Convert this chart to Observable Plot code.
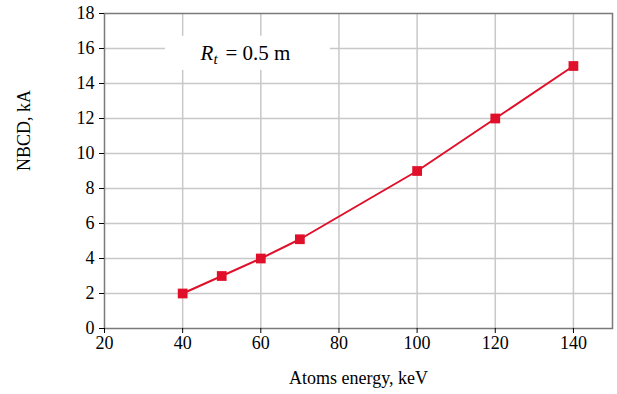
<!DOCTYPE html>
<html>
<head>
<meta charset="utf-8">
<script src="https://cdn.jsdelivr.net/npm/d3@7"></script>
<script src="https://cdn.jsdelivr.net/npm/@observablehq/plot@0.6"></script>
<style>
  html, body { margin: 0; padding: 0; background: #fff; }
  #chart { width: 617px; height: 394px; }
</style>
</head>
<body>
<div id="chart"></div>
<script>
const energy = [40, 50, 60, 70, 100, 120, 140];
const nbcd = [2, 3, 4, 5.1, 9, 12, 15];
const xTicks = [20, 40, 60, 80, 100, 120, 140];
const yTicks = [0, 2, 4, 6, 8, 10, 12, 14, 16, 18];
const xLabel = "Atoms energy, keV";
const yLabel = "NBCD, kA";
const noteMain = ["R"];
const noteSub = ["t"];
const noteRest = ["= 0.5 m"];
const noteX = [44.55];
const noteY = [15.7];
const noteBoxX = [35.6, 77.8];
const noteBoxY = [14.75, 16.7];

const data = energy.map((e, i) => ({energy: e, nbcd: nbcd[i]}));
const box = [{x1: noteBoxX[0], x2: noteBoxX[1], y1: noteBoxY[0], y2: noteBoxY[1]}];
const red = "#e0102a";
const serif = "'Liberation Serif', serif";
const gray = "#7a7a7a";

const chart = Plot.plot({
  width: 617,
  height: 394,
  marginLeft: 104,
  marginRight: 5,
  marginTop: 13,
  marginBottom: 66,
  style: {fontFamily: serif, fontSize: "18px", color: "#000", background: "#fff"},
  x: {domain: [20, 150]},
  y: {domain: [0, 18]},
  marks: [
    Plot.gridX(xTicks.filter(d => d > 20), {stroke: "#c8c8c8", strokeOpacity: 1, strokeWidth: 1.5}),
    Plot.gridY(yTicks.filter(d => d > 0 && d < 18), {stroke: "#c8c8c8", strokeOpacity: 1, strokeWidth: 1.5}),
    Plot.rect(box, {x1: "x1", x2: "x2", y1: "y1", y2: "y2", fill: "#fff"}),
    Plot.frame({stroke: gray, strokeWidth: 1.5}),
    Plot.axisX({ticks: xTicks, tickSize: 5, tickPadding: 3, label: null, fontSize: 18, fontFamily: serif}),
    Plot.axisY({ticks: yTicks, tickSize: 5, tickPadding: 5, label: null, fontSize: 18, fontFamily: serif}),
    Plot.text([xLabel], {frameAnchor: "bottom", dy: 55, text: d => d, fontSize: 18, fontFamily: serif}),
    Plot.text([yLabel], {frameAnchor: "left", dx: -80, rotate: -90, text: d => d, fontSize: 18, fontFamily: serif}),
    Plot.line(data, {x: "energy", y: "nbcd", stroke: red, strokeWidth: 2}),
    Plot.dot(data, {x: "energy", y: "nbcd", symbol: "square", r: 5.5, fill: red, stroke: "none"}),
    Plot.text(noteMain, {x: () => noteX[0], y: () => noteY[0], text: d => d, textAnchor: "start", fontSize: 21, fontStyle: "italic", fontFamily: serif}),
    Plot.text(noteSub, {x: () => noteX[0], y: () => noteY[0], text: d => d, textAnchor: "start", dx: 13, dy: 5, fontSize: 15, fontStyle: "italic", fontFamily: serif}),
    Plot.text(noteRest, {x: () => noteX[0], y: () => noteY[0], text: d => d, textAnchor: "start", dx: 25, fontSize: 21, fontFamily: serif})
  ]
});
document.getElementById("chart").appendChild(chart);
</script>
</body>
</html>
